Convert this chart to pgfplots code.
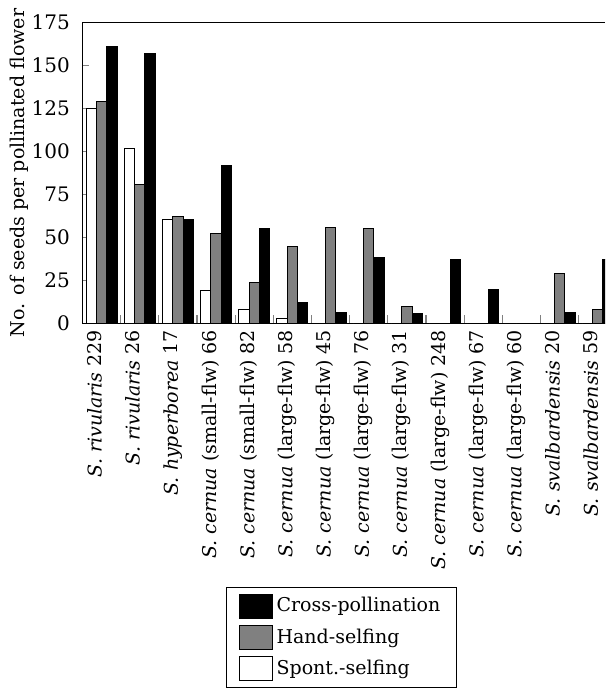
\documentclass[border=0pt]{standalone}
\usepackage{fontspec}
\setmainfont{DejaVu Serif}
\usepackage{pgfplots}
\pgfplotsset{compat=1.18}
\pgfplotsset{sw/.style={legend image code/.code={\draw[##1, line width=0.5pt] (0pt,-6pt) rectangle (16.5pt,6pt);}}}
\begin{document}
\fontsize{9.5}{11}\selectfont
\begin{tikzpicture}[font=\fontsize{9.5}{11}\selectfont]
\begin{axis}[
  name=ax,
  scale only axis, width=261.25pt, height=150.3pt,
  ybar, bar width=0.27,
  xmin=-0.5, xmax=13.19, ymin=0, ymax=175,
  axis x line=box, axis y line=left,
  axis line style={-, line width=0.7pt},
  xtick pos=left, ytick pos=left,
  tick align=inside,
  ytick={0,25,...,175},
  major tick length=3.5pt,
  xtick={0,...,13},
  minor xtick={0.5,1.5,...,12.5},
  minor tick length=4pt,
  major x tick style={draw=none},
  minor x tick style={line width=0.6pt},
  /pgf/number format/assume math mode=true,
  yticklabel style={xshift=-3pt, font=\fontsize{10}{12}\selectfont},
  xticklabel style={rotate=90, anchor=base east},
  xticklabels={
    {\textit{S. rivularis} 229},
    {\textit{S. rivularis} 26},
    {\textit{S. hyperborea} 17},
    {\textit{S. cernua} (small-flw) 66},
    {\textit{S. cernua} (small-flw) 82},
    {\textit{S. cernua} (large-flw) 58},
    {\textit{S. cernua} (large-flw) 45},
    {\textit{S. cernua} (large-flw) 76},
    {\textit{S. cernua} (large-flw) 31},
    {\textit{S. cernua} (large-flw) 248},
    {\textit{S. cernua} (large-flw) 67},
    {\textit{S. cernua} (large-flw) 60},
    {\textit{S. svalbardensis} 20},
    {\textit{S. svalbardensis} 59}},
  ylabel={No. of seeds per pollinated flower},
  ylabel shift=-5pt,
  reverse legend,
  legend cell align=left,
  legend style={at={(0.2746,-0.877)}, anchor=north west, draw=black,
    line width=0.6pt, row sep=3pt, inner xsep=6pt, inner ysep=3pt,
    font=\fontsize{9.5}{11}\selectfont},
]
\addplot[fill=white, draw=black, line width=0.5pt, bar shift=-0.27, sw] coordinates {
  (0,125) (1,102) (2,60.5) (3,19) (4,8) (5,3) (6,0) (7,0) (8,0) (9,0) (10,0) (11,0) (12,0) (13,0)};
\addlegendentry{Spont.-selfing}
\addplot[fill=black!50, draw=black, line width=0.5pt, bar shift=0, sw] coordinates {
  (0,129) (1,81) (2,62) (3,52) (4,24) (5,45) (6,56) (7,55) (8,10) (9,0) (10,0) (11,0) (12,29) (13,8)};
\addlegendentry{Hand-selfing}
\addplot[fill=black, draw=black, line width=0.5pt, bar shift=0.27, sw] coordinates {
  (0,161) (1,157) (2,60.5) (3,92) (4,55) (5,12) (6,6) (7,38.5) (8,5.5) (9,37) (10,19.5) (11,0) (12,6) (13,37)};
\addlegendentry{Cross-pollination}
\end{axis}
\pgfresetboundingbox
\path ([xshift=-41.25pt,yshift=11.35pt]ax.north west) rectangle ([yshift=-183.35pt]ax.south east);
\end{tikzpicture}
\end{document}
